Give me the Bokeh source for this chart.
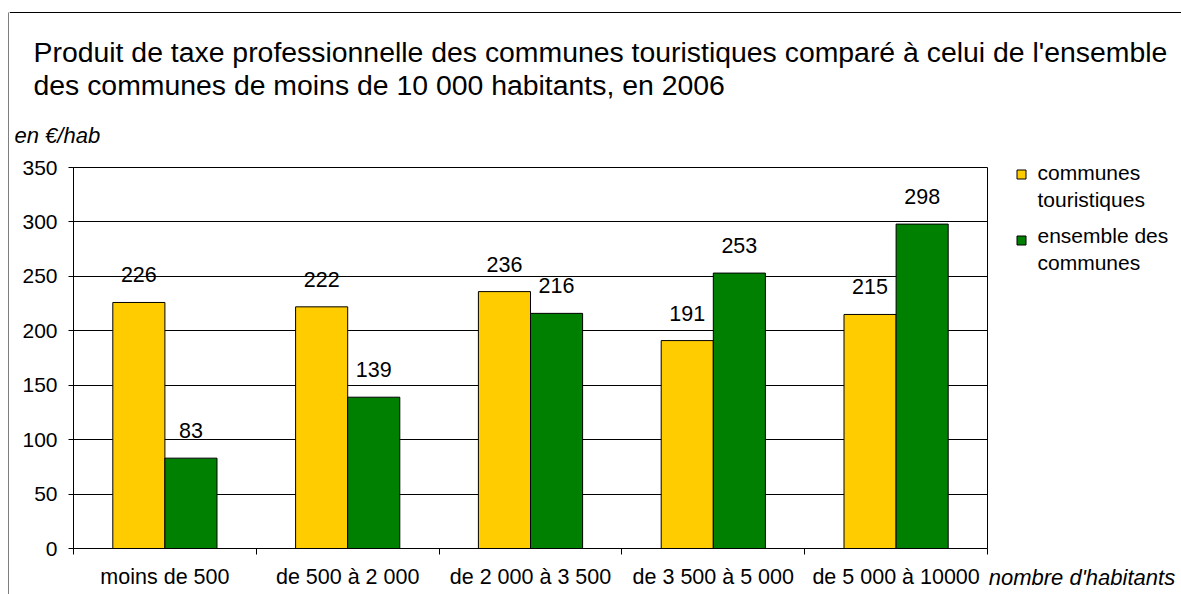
import numpy as np
from bokeh.plotting import figure
from bokeh.layouts import column, row, Spacer
from bokeh.models import FixedTicker, Range1d, ColumnDataSource
from bokeh.core.properties import value
from bokeh.embed import file_html
from bokeh.resources import INLINE

# ---------------- data ----------------
categories = ["moins de 500", "de 500 à 2 000", "de 2 000 à 3 500", "de 3 500 à 5 000", "de 5 000 à 10000"]
touristiques = [226, 222, 236, 191, 215]
ensemble = [83, 139, 216, 253, 298]
series_names = ["communes\ntouristiques", "ensemble des\ncommunes"]
y_ticks = [0, 50, 100, 150, 200, 250, 300, 350]
title_lines = ["Produit de taxe professionnelle des communes touristiques comparé à celui de l'ensemble",
               "des communes de moins de 10 000 habitants, en 2006"]
y_unit = "en €/hab"
x_title = "nombre d'habitants"

# ---------------- style ----------------
FONT = "Liberation Sans"
YELLOW = "#FFCC00"
GREEN = "#008000"
colors = [YELLOW, GREEN]
bw = 0.285


def blank_fig(w, h, x0=0, y_top=0, y_bot=None, **kw):
    y_bot = h if y_bot is None else y_bot
    f = figure(width=w, height=h, x_range=Range1d(x0, x0 + w), y_range=Range1d(y_bot, y_top),
               output_backend="svg", toolbar_location=None, title=None, **kw)
    f.grid.visible = False
    f.outline_line_color = None
    f.background_fill_color = "white"
    f.border_fill_color = "white"
    return f


# ---------------- left border strip (full height) ----------------
vf = blank_fig(1, 582, min_border_left=0, min_border_right=0, min_border_top=0, min_border_bottom=0)
vf.axis.visible = False
vf.background_fill_color = "black"
vf.border_fill_color = "black"

# ---------------- title area (page coords, x from 9) ----------------
TX0, TW, TH = 9, 1172, 150
tf = blank_fig(TW, TH, x0=TX0, min_border_left=0, min_border_right=0, min_border_top=0, min_border_bottom=0)
tf.axis.visible = False
tf.segment(x0=[TX0], y0=[12], x1=[TX0 + TW], y1=[12], line_color="black", line_width=1)
tf.text(x=[33, 33], y=[51, 84], text=title_lines, text_font=value(FONT), text_font_size="28.4px",
        text_color="black", text_baseline="alphabetic", text_align="left")
tf.text(x=[14], y=[135], text=[y_unit], text_font=value(FONT), text_font_size="22px",
        text_font_style="italic", text_color="black", text_baseline="alphabetic", text_align="left")

# ---------------- main chart ----------------
RH = 444
centers = np.arange(len(categories)) + 0.5
src_t = ColumnDataSource(dict(x=centers - bw / 2, y=touristiques, t=[str(v) for v in touristiques]))
src_e = ColumnDataSource(dict(x=centers + bw / 2, y=ensemble, t=[str(v) for v in ensemble]))

p = figure(width=979, height=RH, x_range=Range1d(0, len(categories)), y_range=Range1d(0, 350),
           output_backend="svg", toolbar_location=None, title=None,
           min_border_left=64, min_border_right=1, min_border_top=17, min_border_bottom=46)
p.background_fill_color = "white"
p.border_fill_color = "white"
p.outline_line_color = "black"
p.outline_line_alpha = 1.0

p.vbar(x="x", top="y", width=bw, source=src_t, fill_color=colors[0], line_color="black", line_width=1)
p.vbar(x="x", top="y", width=bw, source=src_e, fill_color=colors[1], line_color="black", line_width=1)

for s in (src_t, src_e):
    p.text(x="x", y="y", text="t", source=s, text_align="center", text_baseline="bottom", y_offset=-20,
           text_font=value(FONT), text_font_size="21.5px", text_color="black")

p.xgrid.visible = False
p.ygrid.ticker = FixedTicker(ticks=y_ticks)
p.ygrid.grid_line_color = "black"
p.ygrid.grid_line_alpha = 1.0

p.yaxis.ticker = FixedTicker(ticks=y_ticks)
p.yaxis.major_tick_out = 5
p.yaxis.major_tick_in = 0
p.yaxis.minor_tick_line_color = None
p.yaxis.major_label_standoff = 11
p.yaxis.axis_line_color = "black"
p.yaxis.major_tick_line_color = "black"
p.yaxis.major_label_text_font_size = "21px"

p.xaxis.ticker = FixedTicker(ticks=list(centers), minor_ticks=list(range(len(categories) + 1)))
p.xaxis.major_label_overrides = {float(c): cat for c, cat in zip(centers, categories)}
p.xaxis.major_tick_line_color = None
p.xaxis.major_tick_out = 0
p.xaxis.major_tick_in = 0
p.xaxis.minor_tick_line_color = "black"
p.xaxis.minor_tick_out = 6
p.xaxis.minor_tick_in = 0
p.xaxis.major_label_standoff = 10
p.xaxis.axis_line_color = "black"
p.xaxis.major_label_text_font_size = "21.5px"

for ax in (p.xaxis, p.yaxis):
    ax.major_label_text_font = FONT
    ax.major_label_text_color = "black"

# ---------------- side area: legend + x title (page coords inside frame) ----------------
SX0, SW = 988, 193
sf = blank_fig(SW, RH, x0=SX0, y_top=167, y_bot=548,
               min_border_left=0, min_border_right=0, min_border_top=17, min_border_bottom=46)
sf.yaxis.visible = False
sf.rect(x=[1021, 1021], y=[174, 240], width=9, height=9, fill_color=colors, line_color="black", line_width=1)
leg_x, leg_y, leg_t = [], [], []
for yy, name in zip([172, 235], series_names):
    for k, line in enumerate(name.split("\n")):
        leg_x.append(1037)
        leg_y.append(yy + k * 27)
        leg_t.append(line)
sf.text(x=leg_x, y=leg_y, text=leg_t, text_font=value(FONT), text_font_size="21px",
        text_color="black", text_baseline="alphabetic", text_align="left")
xt_center = SX0 + 93
sf.xaxis.ticker = FixedTicker(ticks=[xt_center])
sf.xaxis.major_label_overrides = {float(xt_center): x_title}
sf.xaxis.axis_line_color = None
sf.xaxis.major_tick_line_color = None
sf.xaxis.minor_tick_line_color = None
sf.xaxis.major_tick_out = 6
sf.xaxis.major_tick_in = 0
sf.xaxis.major_label_standoff = 10
sf.xaxis.major_label_text_font = FONT
sf.xaxis.major_label_text_font_size = "22px"
sf.xaxis.major_label_text_font_style = "italic"
sf.xaxis.major_label_text_color = "black"

right = column(tf, row(p, sf, spacing=0), spacing=0)
left = column(Spacer(width=1, height=12), vf, spacing=0)
layout = row(Spacer(width=8, height=594), left, right, spacing=0)
open("out.html", "w").write(file_html(layout, INLINE))
